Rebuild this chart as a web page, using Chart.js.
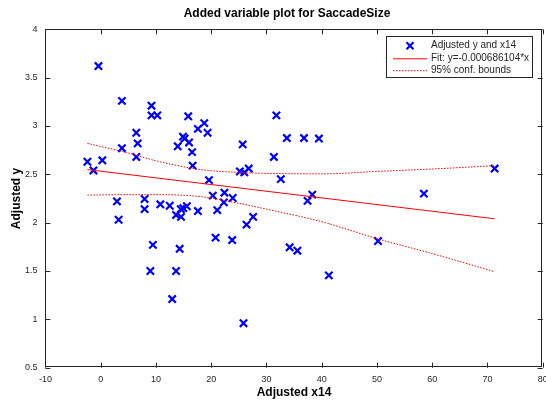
<!DOCTYPE html>
<html>
<head>
<meta charset="utf-8">
<title>Added variable plot for SaccadeSize</title>
<script src="https://cdn.jsdelivr.net/npm/chart.js@4.4.1/dist/chart.umd.min.js"></script>
<style>
    html, body { margin: 0; padding: 0; background: #fff; }
    #wrap { width: 546px; height: 402px; }
</style>
</head>
<body>
<div id="wrap"><canvas id="chart" width="546" height="402"></canvas></div>
<script>
// ---- data ----
const pointX = [-2.4, -1.3, -0.4, 0.3, 2.95, 3.25, 3.85, 3.85, 6.45, 6.7, 6.45, 7.95, 7.95, 9.0, 9.2, 9.2, 9.45,
    10.25, 10.8, 12.5, 12.95, 13.65, 13.65, 13.95, 14.3, 14.55, 14.5, 14.9, 15.2, 14.95, 15.6, 15.85, 16.0, 16.55,
    16.65, 17.6, 17.6, 18.75, 19.35, 19.6, 20.3, 20.8, 21.1, 22.3, 22.4, 23.9, 23.8, 25.2, 25.7, 26.0, 25.85, 26.4,
    26.8, 27.6, 31.35, 31.8, 32.6, 33.7, 34.2, 35.6, 36.8, 37.45, 38.3, 39.5, 41.3, 50.2, 58.5, 71.3];
const pointY = [2.63, 2.54, 3.62, 2.645, 2.22, 2.03, 3.26, 2.77, 2.93, 2.82, 2.68, 2.245, 2.14, 1.50, 3.21, 3.11, 1.77,
    3.11, 2.19, 2.175, 1.21, 2.08, 1.50, 2.79, 1.73, 2.06, 2.14, 2.89, 2.87, 2.15, 2.17, 3.10, 2.83, 2.73,
    2.59, 2.97, 2.12, 3.03, 2.93, 2.44, 2.28, 1.845, 2.13, 2.21, 2.31, 2.255, 1.82, 2.53, 2.81, 2.52, 0.96, 1.98,
    2.56, 2.06, 2.68, 3.11, 2.45, 2.875, 1.745, 1.71, 2.875, 2.225, 2.29, 2.87, 1.455, 1.81, 2.30, 2.56];

const fitX = [-2.4, 71.3];
const fitY = [2.549, 2.04];

const boundX = [-2.4, 5, 10, 18, 25, 30, 40, 50, 60, 71.3];
const upperY = [2.82, 2.72, 2.64, 2.55, 2.52, 2.51, 2.505, 2.53, 2.555, 2.59];
const lowerY = [2.285, 2.29, 2.29, 2.27, 2.20, 2.14, 2.01, 1.835, 1.68, 1.493];

const legendLabels = ['Adjusted y and x14', 'Fit: y=-0.000686104*x', '95% conf. bounds'];
const chartTitle = 'Added variable plot for SaccadeSize';

// ---- style ----
const AXIS_COLOR = '#262626';
const BLUE = '#0000ff';
const RED = '#ff0000';
const FONT = '"Liberation Sans", Arial, Helvetica, sans-serif';
const TICK_LEN = 5;

const toXY = (xs, ys) => xs.map((v, i) => ({ x: v, y: ys[i] }));
const plainNum = v => String(+v.toFixed(2));

// box, inward ticks, title and legend drawn like MATLAB does
const framePlugin = {
    id: 'frame',
    afterDraw(chart) {
        const { ctx, chartArea: a, scales: { x, y } } = chart;
        ctx.save();
        ctx.strokeStyle = AXIS_COLOR;
        ctx.lineWidth = 1;
        ctx.strokeRect(Math.round(a.left) + 0.5, Math.round(a.top) + 0.5,
            Math.round(a.right - a.left) - 1, Math.round(a.bottom - a.top) - 1);

        ctx.beginPath();
        x.ticks.forEach(t => {
            const px = Math.round(x.getPixelForValue(t.value)) + 0.5;
            ctx.moveTo(px, a.top); ctx.lineTo(px, a.top + TICK_LEN);
            ctx.moveTo(px, a.bottom); ctx.lineTo(px, a.bottom - TICK_LEN);
        });
        y.ticks.forEach(t => {
            const py = Math.round(y.getPixelForValue(t.value)) + 0.5;
            ctx.moveTo(a.left, py); ctx.lineTo(a.left + TICK_LEN, py);
            ctx.moveTo(a.right, py); ctx.lineTo(a.right - TICK_LEN, py);
        });
        ctx.stroke();

        // title
        ctx.fillStyle = '#000';
        ctx.font = 'bold 12px ' + FONT;
        ctx.textAlign = 'center';
        ctx.textBaseline = 'middle';
        ctx.fillText(chartTitle, 287, 14);

        // legend
        const lx = 386.5, ly = 36.5, lw = 146, lh = 41;
        ctx.fillStyle = '#fff';
        ctx.fillRect(lx, ly, lw, lh);
        ctx.strokeStyle = AXIS_COLOR;
        ctx.strokeRect(lx, ly, lw, lh);
        const rows = [45.7, 58.3, 70.2];

        ctx.strokeStyle = BLUE;
        ctx.lineWidth = 2.2;
        ctx.beginPath();
        ctx.moveTo(406.5, rows[0] - 3.5); ctx.lineTo(413.5, rows[0] + 3.5);
        ctx.moveTo(413.5, rows[0] - 3.5); ctx.lineTo(406.5, rows[0] + 3.5);
        ctx.stroke();

        ctx.strokeStyle = RED;
        ctx.lineWidth = 1;
        ctx.beginPath();
        ctx.moveTo(393, rows[1] + 0.5); ctx.lineTo(427, rows[1] + 0.5);
        ctx.stroke();
        ctx.setLineDash([1.5, 1.5]);
        ctx.beginPath();
        ctx.moveTo(393, rows[2] + 0.5); ctx.lineTo(427, rows[2] + 0.5);
        ctx.stroke();
        ctx.setLineDash([]);

        ctx.fillStyle = AXIS_COLOR;
        ctx.font = '10px ' + FONT;
        ctx.textAlign = 'left';
        legendLabels.forEach((txt, i) => ctx.fillText(txt, 431, rows[i]));
        ctx.restore();
    }
};

const chart = new Chart(document.getElementById('chart'), {
    type: 'scatter',
    data: {
        datasets: [
            {
                label: legendLabels[1],
                type: 'line',
                data: toXY(fitX, fitY),
                borderColor: RED,
                borderWidth: 1,
                pointRadius: 0,
                fill: false
            },
            {
                label: legendLabels[2],
                type: 'line',
                data: toXY(boundX, upperY),
                borderColor: RED,
                borderWidth: 1,
                borderDash: [1.5, 1.5],
                pointRadius: 0,
                cubicInterpolationMode: 'monotone',
                fill: false
            },
            {
                label: legendLabels[2],
                type: 'line',
                data: toXY(boundX, lowerY),
                borderColor: RED,
                borderWidth: 1,
                borderDash: [1.5, 1.5],
                pointRadius: 0,
                cubicInterpolationMode: 'monotone',
                fill: false
            },
            {
                label: legendLabels[0],
                data: toXY(pointX, pointY),
                pointStyle: 'crossRot',
                pointRadius: 5.2,
                pointBorderWidth: 2.2,
                borderColor: BLUE,
                backgroundColor: BLUE
            }
        ]
    },
    options: {
        responsive: false,
        animation: false,
        devicePixelRatio: 1,
        layout: { autoPadding: false, padding: { top: 29.3, right: 3.3, left: 0, bottom: 0 } },
        plugins: {
            legend: { display: false },
            tooltip: { enabled: false },
            title: { display: false }
        },
        scales: {
            x: {
                min: -10,
                max: 80,
                ticks: { stepSize: 10, color: AXIS_COLOR, padding: 6, maxRotation: 0, font: { family: FONT, size: 9 }, callback: plainNum },
                grid: { display: false, drawTicks: false },
                border: { display: false },
                title: {
                    display: true,
                    text: 'Adjusted x14',
                    color: '#000',
                    font: { family: FONT, size: 12, weight: 'bold' },
                    padding: { top: 0, bottom: 2 }
                },
                afterFit(scale) {
                    scale.height = 34.3;
                    scale.paddingLeft = 0;
                    scale.paddingRight = 0;
                }
            },
            y: {
                min: 0.5,
                max: 4,
                ticks: { stepSize: 0.5, color: AXIS_COLOR, padding: 8, font: { family: FONT, size: 9 }, callback: plainNum },
                grid: { display: false, drawTicks: false },
                border: { display: false },
                title: {
                    display: true,
                    text: 'Adjusted y',
                    color: '#000',
                    font: { family: FONT, size: 12, weight: 'bold' },
                    padding: { top: 9, bottom: 0 }
                },
                afterFit(scale) {
                    scale.width = 45.4;
                    scale.paddingTop = 0;
                    scale.paddingBottom = 0;
                }
            }
        }
    },
    plugins: [framePlugin]
});
</script>
</body>
</html>
